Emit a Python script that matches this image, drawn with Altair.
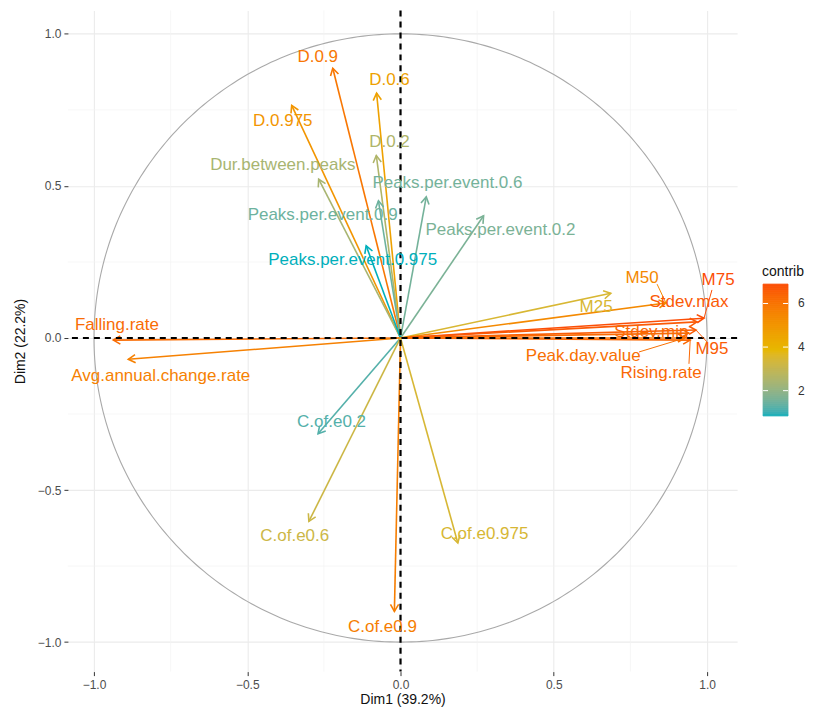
import altair as alt
import numpy as np
import pandas as pd

names = ["D.0.9", "D.0.6", "D.0.975", "D.0.2", "Dur.between.peaks",
         "Peaks.per.event.0.9", "Peaks.per.event.0.6", "Peaks.per.event.0.2",
         "Peaks.per.event.0.975", "M25", "M50", "M75", "Stdev.max", "M95",
         "Stdev.min", "Peak.day.value", "Rising.rate", "Falling.rate",
         "Avg.annual.change.rate", "C.of.e0.2", "C.of.e0.6", "C.of.e0.9",
         "C.of.e0.975"]
dim1 = [-0.221, -0.078, -0.355, -0.079, -0.267, -0.072, 0.084, 0.271, -0.112,
        0.686, 0.866, 0.990, 0.967, 0.964, 0.940, 0.928, 0.945, -0.937, -0.888,
        -0.269, -0.299, -0.020, 0.187]
dim2 = [0.887, 0.805, 0.765, 0.600, 0.522, 0.451, 0.464, 0.402, 0.303,
        0.147, 0.115, 0.065, 0.053, 0.026, 0.016, 0.000, -0.007, -0.007, -0.070,
        -0.315, -0.603, -0.899, -0.674]
contrib = [5.92, 4.63, 5.04, 2.59, 2.43, 1.48, 1.57, 1.66, 0.84,
           3.49, 5.40, 6.89, 6.64, 6.58, 6.26, 6.10, 6.32, 6.22, 5.62,
           1.21, 3.21, 5.72, 3.46]
label_x = [-0.270, -0.036, -0.384, -0.036, -0.384, -0.254, 0.153, 0.326, -0.156,
           0.638, 0.788, 1.036, 0.941, 1.016, 0.818, 0.596, 0.850, -0.925, -0.782,
           -0.225, -0.345, -0.059, 0.274]
label_y = [0.923, 0.847, 0.713, 0.644, 0.568, 0.404, 0.509, 0.355, 0.256,
           0.102, 0.197, 0.190, 0.118, -0.036, 0.020, -0.059, -0.115, 0.043, -0.125,
           -0.276, -0.650, -0.949, -0.644]

leader_names = ["M50", "M75", "M95", "Peak.day.value", "Rising.rate"]
leader_x = [0.837, 1.016, 1.000, 0.778, 0.941]
leader_y = [0.177, 0.158, -0.013, -0.046, -0.085]

x_ticks = [-1.0, -0.5, 0.0, 0.5, 1.0]
y_ticks = [-1.0, -0.5, 0.0, 0.5, 1.0]
minor_ticks = [-0.75, -0.25, 0.25, 0.75]
legend_ticks = [2, 4, 6]

W, H = 670, 662
XD = [-1.085, 1.098]
YD = [-1.097, 1.077]
SX = W / (XD[1] - XD[0])
SY = H / (YD[1] - YD[0])

df = pd.DataFrame({"name": names, "x": dim1, "y": dim2, "contrib": contrib,
                   "lx": label_x, "ly": label_y})
df["x0"] = 0.0
df["y0"] = 0.0
df["ang"] = (90 - np.degrees(np.arctan2(df["y"] * SY, df["x"] * SX))) % 360

lead = pd.DataFrame({"name": leader_names, "lx": leader_x, "ly": leader_y})
lead = lead.merge(df[["name", "x", "y", "contrib"]], on="name")

t = np.linspace(0, 2 * np.pi, 361)
circ = pd.DataFrame({"cx": np.cos(t), "cy": np.sin(t), "o": np.arange(len(t))})

cmin, cmax = min(contrib), max(contrib)


def cscale():
    return alt.Scale(domain=[cmin, (cmin + cmax) / 2, cmax],
                     range=["#00AFBB", "#E7B800", "#FC4E07"],
                     interpolate="lab")


stroke_nl = alt.Stroke("contrib:Q", scale=cscale(), legend=None)
fill_nl = alt.Fill("contrib:Q", scale=cscale(), legend=None)

xs = alt.Scale(domain=XD, nice=False, zero=False)
ys = alt.Scale(domain=YD, nice=False, zero=False)

xaxis = alt.Axis(values=x_ticks, format=".1f", title="Dim1 (39.2%)", grid=True,
                 gridColor="#ebebeb", gridWidth=1.1, domain=False, tickColor="#333333",
                 tickSize=4, labelColor="#4d4d4d", labelFontSize=12, labelPadding=4,
                 titleFontSize=14, titleFontWeight="normal", titleColor="#111111",
                 titlePadding=2)
yaxis = alt.Axis(values=y_ticks, format=".1f", title="Dim2 (22.2%)", grid=True,
                 gridColor="#ebebeb", gridWidth=1.1, domain=False, tickColor="#333333",
                 tickSize=4, labelColor="#4d4d4d", labelFontSize=12, labelPadding=3,
                 titleFontSize=14, titleFontWeight="normal", titleColor="#111111",
                 titlePadding=10)

base = alt.Chart(df)

minor_v = alt.Chart(pd.DataFrame({"v": minor_ticks})).mark_rule(
    color="#f4f4f4", strokeWidth=0.7).encode(x=alt.X("v:Q", scale=xs, axis=xaxis))
minor_h = alt.Chart(pd.DataFrame({"v": minor_ticks})).mark_rule(
    color="#f4f4f4", strokeWidth=0.7).encode(y=alt.Y("v:Q", scale=ys, axis=yaxis))

circle = alt.Chart(circ).mark_line(color="#a9a9a9", strokeWidth=1.1).encode(
    x=alt.X("cx:Q", scale=xs), y=alt.Y("cy:Q", scale=ys), order="o:Q")

arrows = base.mark_rule(strokeWidth=1.6).encode(
    x=alt.X("x0:Q", scale=xs), y=alt.Y("y0:Q", scale=ys),
    x2="x:Q", y2="y:Q", stroke=stroke_nl)

heads = base.mark_point(shape="M -0.55 0.95 L 0 0 L 0.55 0.95", filled=False,
                        strokeWidth=1.6, size=220, opacity=1).encode(
    x=alt.X("x:Q", scale=xs), y=alt.Y("y:Q", scale=ys),
    angle=alt.Angle("ang:Q", scale=None), stroke=stroke_nl)

vdash = alt.Chart(pd.DataFrame({"v": [0.0]})).mark_rule(
    color="#000000", strokeWidth=2.2, strokeDash=[6, 5]).encode(
    x=alt.X("v:Q", scale=xs))
hdash = alt.Chart(pd.DataFrame({"v": [0.0]})).mark_rule(
    color="#000000", strokeWidth=2.2, strokeDash=[6, 5]).encode(
    y=alt.Y("v:Q", scale=ys))

leaders = alt.Chart(lead).mark_rule(strokeWidth=1).encode(
    x=alt.X("lx:Q", scale=xs), y=alt.Y("ly:Q", scale=ys),
    x2="x:Q", y2="y:Q", stroke=stroke_nl)

labels = base.mark_text(fontSize=17, font="Liberation Sans", align="center",
                        baseline="middle").encode(
    x=alt.X("lx:Q", scale=xs), y=alt.Y("ly:Q", scale=ys), text="name:N",
    fill=fill_nl)

main = alt.layer(minor_v, minor_h, circle, arrows, heads, vdash, hdash,
                 leaders, labels)

# ---- colour bar legend (ggplot style), drawn through its own value scale ----
LX0, LX1 = 696, 721          # bar left / right, px from plot origin
LTOP, LBOT = 274, 406        # bar top / bottom, px from plot origin
edges = np.linspace(cmin, cmax, 67)
bins = pd.DataFrame({"lo": edges[:-1], "hi": edges[1:]})
bins["contrib"] = (bins["lo"] + bins["hi"]) / 2
ly_scale = alt.Scale(domain=[cmin, cmax], range=[LBOT, LTOP], nice=False, zero=False)

bar = alt.Chart(bins).mark_rect(strokeWidth=0.8).encode(
    x=alt.value(LX0), x2=alt.value(LX1),
    y=alt.Y("lo:Q", scale=ly_scale, axis=None), y2="hi:Q",
    fill=fill_nl, stroke=stroke_nl)
ticks_df = pd.DataFrame({"v": legend_ticks})
tick_l = alt.Chart(ticks_df).mark_rule(color="white", strokeWidth=1).encode(
    x=alt.value(LX0), x2=alt.value(LX0 + 5),
    y=alt.Y("v:Q", scale=ly_scale, axis=None))
tick_r = alt.Chart(ticks_df).mark_rule(color="white", strokeWidth=1).encode(
    x=alt.value(LX1 - 5), x2=alt.value(LX1),
    y=alt.Y("v:Q", scale=ly_scale, axis=None))
tick_lab = alt.Chart(ticks_df).mark_text(
    fontSize=12, font="Liberation Sans", align="left", baseline="middle",
    color="#333333").encode(
    x=alt.value(LX1 + 10), y=alt.Y("v:Q", scale=ly_scale, axis=None),
    text=alt.Text("v:Q", format="d"))
leg_title = alt.Chart(pd.DataFrame({"t": ["contrib"]})).mark_text(
    fontSize=14, font="Liberation Sans", align="left", baseline="middle",
    color="#111111").encode(x=alt.value(LX0 - 1), y=alt.value(262), text="t:N")

legend_layer = alt.layer(bar, tick_l, tick_r, tick_lab, leg_title)

chart = alt.layer(main, legend_layer).resolve_scale(y="independent").properties(
    width=W, height=H,
    autosize=alt.AutoSizeParams(type="none"),
    padding={"left": 60, "top": 2, "right": 70, "bottom": 37},
    background="white",
).configure_view(stroke=None).configure_axis(labelFont="Liberation Sans",
                                              titleFont="Liberation Sans")

chart.save("out.html", embed_options={"renderer": "svg", "actions": False})
